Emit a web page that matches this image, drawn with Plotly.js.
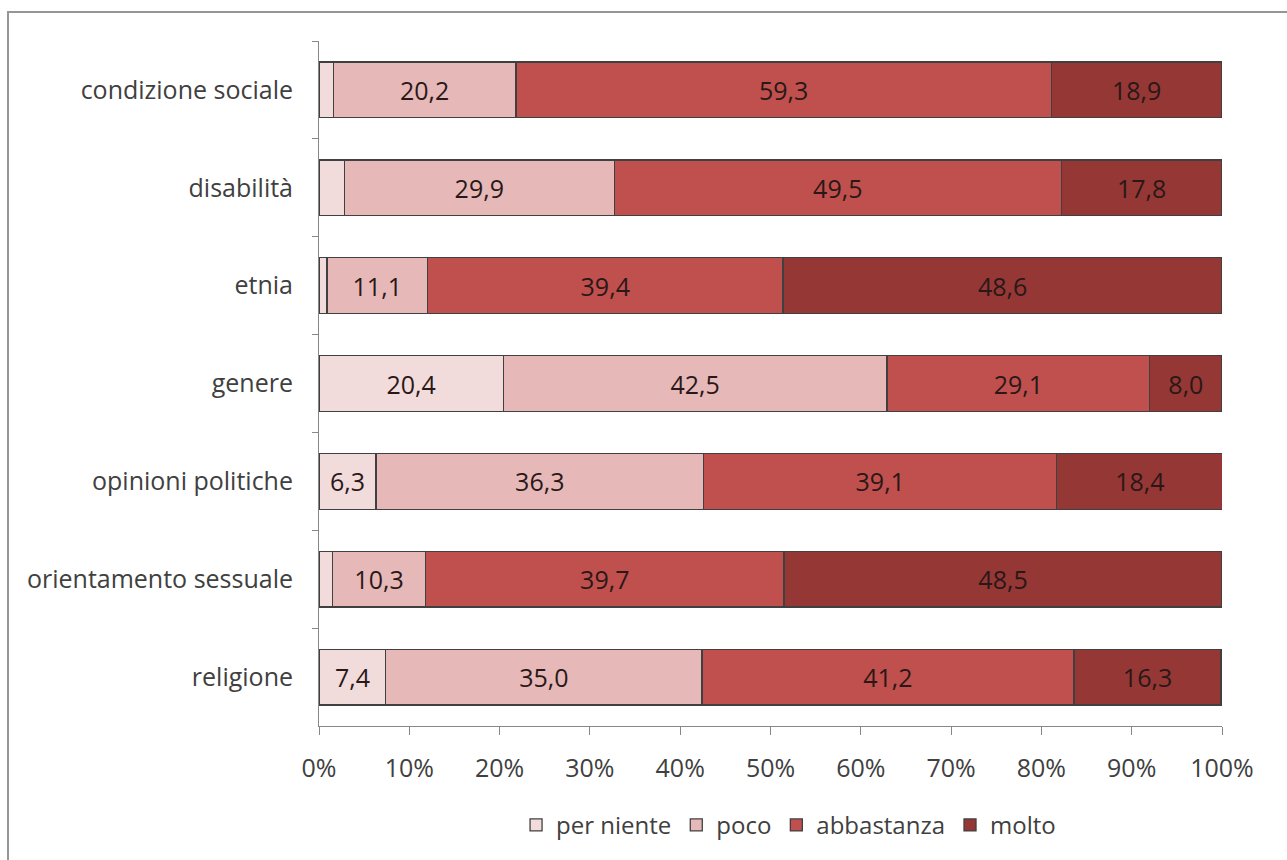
<!DOCTYPE html>
<html>
<head>
<meta charset="utf-8">
<script src="https://cdn.plot.ly/plotly-3.0.1.min.js"></script>
<style>
html,body{margin:0;padding:0;background:#fff;overflow:hidden;}
#frame{position:absolute;left:7px;top:11px;width:1400px;height:1000px;border:2px solid #969696;box-sizing:border-box;}
#chart{position:absolute;left:0;top:0;width:1287px;height:860px;}
</style>
</head>
<body>
<div id="frame"></div>
<div id="chart"></div>
<script>
const categories = ["condizione sociale","disabilità","etnia","genere","opinioni politiche","orientamento sessuale","religione"];
const perNiente  = [1.6, 2.8, 0.9, 20.4, 6.3, 1.5, 7.4];
const poco       = [20.2, 29.9, 11.1, 42.5, 36.3, 10.3, 35.0];
const abbastanza = [59.3, 49.5, 39.4, 29.1, 39.1, 39.7, 41.2];
const molto      = [18.9, 17.8, 48.6, 8.0, 18.4, 48.5, 16.3];
const seriesNames = ["per niente","poco","abbastanza","molto"];
const xTickVals = [0,10,20,30,40,50,60,70,80,90,100];
const xTickText = ["0%","10%","20%","30%","40%","50%","60%","70%","80%","90%","100%"];

const colors = ["#F2DCDB","#E6B9B8","#C0504D","#953735"];
const FONT = "Open Sans, sans-serif";
function lbl(v){ return v >= 5 ? v.toFixed(1).replace('.', ',') : ''; }

const data = [perNiente, poco, abbastanza, molto].map((vals, i) => ({
  type: 'bar',
  orientation: 'h',
  name: seriesNames[i],
  y: categories,
  x: vals,
  text: vals.map(lbl),
  textposition: 'inside',
  insidetextanchor: 'middle',
  textangle: 0,
  constraintext: 'none',
  textfont: {family: FONT, size: 25, color: '#2a1818'},
  hoverinfo: 'x+y+name',
  marker: {color: colors[i], line: {color: '#404040', width: 1.3}}
}));

const layout = {
  width: 1287, height: 860,
  paper_bgcolor: 'rgba(0,0,0,0)',
  plot_bgcolor: 'rgba(0,0,0,0)',
  barmode: 'stack',
  bargap: 0.43,
  margin: {l: 319, r: 65, t: 41, b: 131},
  font: {family: FONT, size: 25, color: '#404040'},
  xaxis: {
    range: [0, 100],
    tickvals: xTickVals,
    ticktext: xTickText,
    automargin: false,
    ticks: 'outside', ticklen: 8, tickcolor: '#888888', tickwidth: 1,
    showline: true, linecolor: '#888888', linewidth: 1,
    showgrid: false, zeroline: false,
    ticklabelstandoff: 12,
    tickfont: {family: FONT, size: 25, color: '#404040'},
    fixedrange: true
  },
  yaxis: {
    type: 'category',
    autorange: 'reversed',
    automargin: false,
    ticks: 'outside', tickson: 'boundaries', ticklen: 6, tickcolor: '#888888', tickwidth: 1,
    showline: true, linecolor: '#888888', linewidth: 1,
    showgrid: false, zeroline: false,
    ticklabelstandoff: 20,
    tickfont: {family: FONT, size: 25, color: '#404040'},
    fixedrange: true
  },
  showlegend: true,
  legend: {
    orientation: 'h',
    x: 0.52, xanchor: 'center',
    y: -0.145, yanchor: 'middle',
    font: {family: FONT, size: 24, color: '#404040'},
    itemwidth: 30,
    traceorder: 'normal'
  }
};

Plotly.newPlot('chart', data, layout, {displayModeBar: false, staticPlot: true});
</script>
</body>
</html>
